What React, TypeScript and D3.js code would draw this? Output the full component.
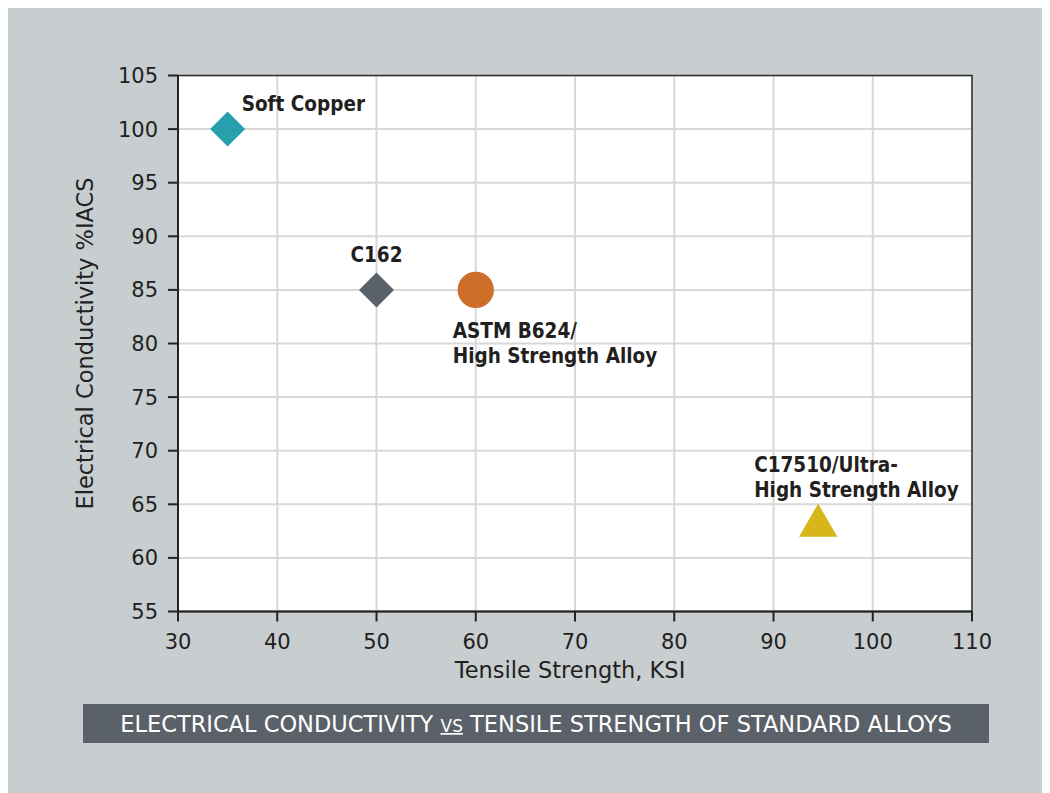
import React from 'react';
import * as d3 from 'd3';

const alloys = ['Soft Copper', 'C162', 'ASTM B624/High Strength Alloy', 'C17510/Ultra-High Strength Alloy'];
const strength = [35, 50, 60, 94.5];
const conductivity = [100, 85, 85, 63];
const shapes = ['diamond', 'diamond', 'circle', 'triangle'];
const colors = ['#279fad', '#5a6168', '#cd6f28', '#d6b619'];
const labelLines = [['Soft Copper'], ['C162'], ['ASTM B624/', 'High Strength Alloy'], ['C17510/Ultra-', 'High Strength Alloy']];
// label offsets relative to marker (dx, dy of first baseline)
const labelOffsets = [[14, -18], [-26, -28], [-23, 48], [-64, -54]];

const xTicks = [30, 40, 50, 60, 70, 80, 90, 100, 110];
const yTicks = [55, 60, 65, 70, 75, 80, 85, 90, 95, 100, 105];

const width = 1042;
const height = 785;
const margin = { top: 67.5, right: 78, bottom: 181.5, left: 170 };
const ox = 8; // svg offset on the page

const App = () => {
  const innerWidth = width - margin.left - margin.right;
  const innerHeight = height - margin.top - margin.bottom;

  const x = d3.scaleLinear().domain([30, 110]).range([0, innerWidth]);
  const y = d3.scaleLinear().domain([55, 105]).range([innerHeight, 0]);

  const symbolPath = (shape: string) => {
    if (shape === 'diamond') return d3.symbol(d3.symbolDiamond2, 780)();
    if (shape === 'triangle') return d3.symbol(d3.symbolTriangle2, 1050)();
    return d3.symbol(d3.symbolCircle, 1040)();
  };

  const font = "'DejaVu Sans', sans-serif";
  const boldFont = "'DejaVu Sans Condensed', 'Noto Sans', sans-serif";

  return (
    <svg width={width} height={height} style={{ display: 'block' }}>
      <rect x={0} y={0} width={width} height={height} fill="#c8cdd0" />
      <g transform={`translate(${margin.left}, ${margin.top})`}>
        <rect x={0} y={0} width={innerWidth} height={innerHeight} fill="#fff" />
        {xTicks.map(t => (
          <line key={'gx' + t} x1={x(t)} x2={x(t)} y1={0} y2={innerHeight} stroke="#d8d8d8" strokeWidth={2} />
        ))}
        {yTicks.map(t => (
          <line key={'gy' + t} x1={0} x2={innerWidth} y1={y(t)} y2={y(t)} stroke="#d8d8d8" strokeWidth={2} />
        ))}
        <rect x={0} y={0} width={innerWidth} height={innerHeight} fill="none" stroke="#2a2a2a" strokeWidth={1.5} />
        <line x1={0} x2={0} y1={0} y2={innerHeight} stroke="#222" strokeWidth={2} />
        <line x1={0} x2={innerWidth} y1={innerHeight} y2={innerHeight} stroke="#222" strokeWidth={2} />
        {yTicks.map(t => (
          <g key={'ty' + t} transform={`translate(0, ${y(t)})`}>
            <line x1={-10} x2={0} stroke="#222" strokeWidth={2} />
            <text x={-20} dy="0.36em" textAnchor="end" fontFamily={font} fontSize={21} fill="#231f20">{t}</text>
          </g>
        ))}
        {xTicks.map(t => (
          <g key={'tx' + t} transform={`translate(${x(t)}, ${innerHeight})`}>
            <line y1={0} y2={10} stroke="#222" strokeWidth={2} />
            <text y={37} textAnchor="middle" fontFamily={font} fontSize={21} fill="#231f20">{t}</text>
          </g>
        ))}
        <text
          transform={`translate(${-85}, ${innerHeight / 2}) rotate(-90)`}
          textAnchor="middle"
          fontFamily={font}
          fontSize={22.5}
          fill="#231f20"
        >Electrical Conductivity %IACS</text>
        <text x={x(70) - 5} y={innerHeight + 66} textAnchor="middle" fontFamily={font} fontSize={22.5} fill="#231f20">
          Tensile Strength, KSI
        </text>
        {alloys.map((a, i) => (
          <g key={a}>
            <path
              d={symbolPath(shapes[i]) || ''}
              transform={`translate(${x(strength[i])}, ${y(conductivity[i])})`}
              fill={colors[i]}
            />
            <text
              x={x(strength[i]) + labelOffsets[i][0]}
              y={y(conductivity[i]) + labelOffsets[i][1]}
              fontFamily={boldFont}
              fontWeight="bold"
              fontSize={20.5}
              fill="#231f20"
            >
              {labelLines[i].map((l, j) => (
                <tspan key={j} x={x(strength[i]) + labelOffsets[i][0]} dy={j === 0 ? 0 : 25}>{l}</tspan>
              ))}
            </text>
          </g>
        ))}
      </g>
      <rect x={83 - ox} y={704 - ox} width={906} height={39} fill="#5b6168" />
      <text x={536 - ox} y={732 - ox} textAnchor="middle" fontFamily={font} fontSize={22.5} fill="#fff">
        ELECTRICAL CONDUCTIVITY{' '}
        <tspan fontSize={17} textDecoration="underline">VS</tspan>
        {' '}TENSILE STRENGTH OF STANDARD ALLOYS
      </text>
    </svg>
  );
};

export default App;
